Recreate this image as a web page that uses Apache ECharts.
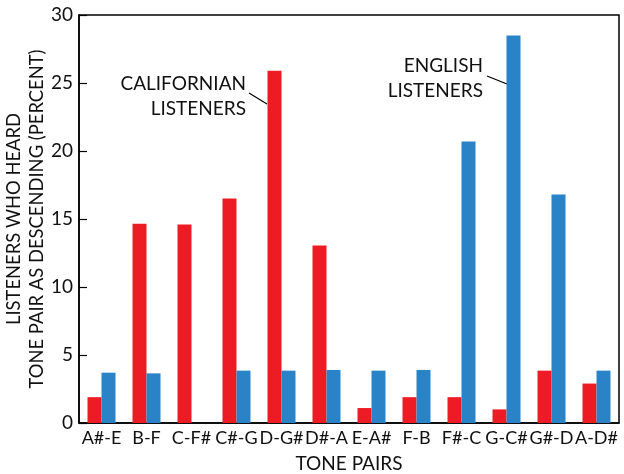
<!DOCTYPE html>
<html><head><meta charset="utf-8">
<script src="https://cdn.jsdelivr.net/npm/echarts@6/dist/echarts.min.js"></script>
<style>html,body{margin:0;padding:0;background:#fff}#c{width:624px;height:474px}</style>
</head><body><div id="c"></div>
<script>
const categories = ['A#-E','B-F','C-F#','C#-G','D-G#','D#-A','E-A#','F-B','F#-C','G-C#','G#-D','A-D#'];
const californian = [1.9, 14.65, 14.6, 16.5, 25.9, 13.05, 1.1, 1.9, 1.9, 1.0, 3.85, 2.9];
const english = [3.7, 3.65, 0, 3.85, 3.85, 3.9, 3.85, 3.9, 20.7, 28.5, 16.8, 3.85];
const yTicks = [0, 5, 10, 15, 20, 25, 30];
const FONT = 'Lato, sans-serif';
const FS = 19;
const chart = echarts.init(document.getElementById('c'));
chart.setOption({
  animation: false,
  grid: {left: 79, right: 5, top: 15, bottom: 51, show: true, borderColor: '#000', borderWidth: 1.5, backgroundColor: 'transparent', containLabel: false, outerBoundsMode: 'none'},
  xAxis: {
    type: 'category', data: categories,
    axisLine: {lineStyle: {color: '#000', width: 1.5}},
    axisTick: {show: false},
    axisLabel: {color: '#111', fontSize: 18, fontFamily: FONT, margin: 6, interval: 0, hideOverlap: false},
    name: 'TONE PAIRS', nameLocation: 'middle', nameGap: 31, nameMoveOverlap: false,
    nameTextStyle: {color: '#111', fontSize: FS, fontFamily: FONT}
  },
  yAxis: {
    type: 'value', min: yTicks[0], max: yTicks[yTicks.length-1], interval: 5,
    splitLine: {show: false},
    axisLine: {show: true, lineStyle: {color: '#000', width: 1.5}},
    axisTick: {show: true, inside: true, length: 8, lineStyle: {color: '#000', width: 1.2}},
    axisLabel: {color: '#111', fontSize: FS, fontFamily: FONT, margin: 6},
    name: 'LISTENERS WHO HEARD\nTONE PAIR AS DESCENDING (PERCENT)', nameLocation: 'middle', nameGap: 30, nameMoveOverlap: false,
    nameTextStyle: {color: '#111', fontSize: 18.4, fontFamily: FONT, lineHeight: 23}
  },
  series: [
    {type: 'bar', name: 'Californian', data: californian, itemStyle: {color: '#ED1C24'}, barWidth: 14, barGap: '0%'},
    {type: 'bar', name: 'English', data: english, itemStyle: {color: '#2A82C7'}, barWidth: 14, barGap: '0%'}
  ],
  graphic: [
    {type: 'text', x: 246, y: 71, style: {text: 'CALIFORNIAN\nLISTENERS', fill: '#111', font: FS + 'px Lato, sans-serif', align: 'right', verticalAlign: 'top', lineHeight: 25}},
    {type: 'line', shape: {x1: 249, y1: 93, x2: 267, y2: 104}, style: {stroke: '#000', lineWidth: 1.2}},
    {type: 'text', x: 483, y: 53, style: {text: 'ENGLISH\nLISTENERS', fill: '#111', font: FS + 'px Lato, sans-serif', align: 'right', verticalAlign: 'top', lineHeight: 25}},
    {type: 'line', shape: {x1: 487, y1: 76, x2: 507, y2: 84}, style: {stroke: '#000', lineWidth: 1.2}}
  ]
});
</script></body></html>
